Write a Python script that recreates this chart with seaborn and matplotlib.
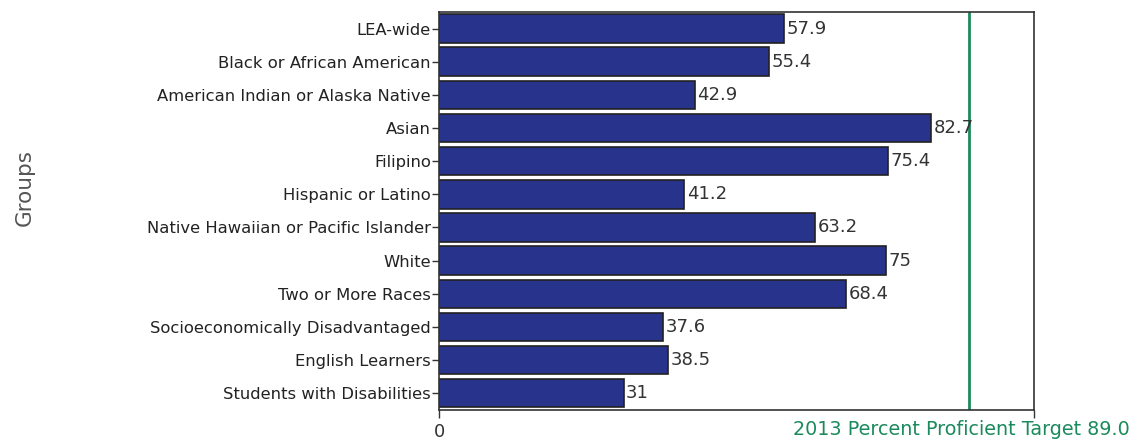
import matplotlib
import numpy as np
import pandas as pd
import seaborn as sns
from matplotlib import pyplot as plt

matplotlib.use('Agg')

groups = [
    "LEA-wide",
    "Black or African American",
    "American Indian or Alaska Native",
    "Asian",
    "Filipino",
    "Hispanic or Latino",
    "Native Hawaiian or Pacific Islander",
    "White",
    "Two or More Races",
    "Socioeconomically Disadvantaged",
    "English Learners",
    "Students with Disabilities",
]
values = [57.9, 55.4, 42.9, 82.7, 75.4, 41.2, 63.2, 75, 68.4, 37.6, 38.5, 31]
value_labels = ["57.9", "55.4", "42.9", "82.7", "75.4", "41.2", "63.2", "75", "68.4", "37.6", "38.5", "31"]
target = 89.0
target_label = "2013 Percent Proficient Target 89.0"

BAR_COLOR = "#28338c"
TARGET_COLOR = "#1b8a5c"

sns.set_style("white")
plt.rcParams['font.family'] = ['DejaVu Sans']

df = pd.DataFrame({"group": groups, "value": values})

fig = plt.figure(figsize=(11.38, 4.44), dpi=100)
ax = fig.add_axes([0.386, 0.077, 0.523, 0.896])

sns.barplot(data=df, x="value", y="group", orient="h", color=BAR_COLOR,
            edgecolor="#222222", linewidth=1.2, width=0.86, saturation=1, ax=ax)

for i, (v, lab) in enumerate(zip(values, value_labels)):
    ax.text(v + 0.4, i, lab, va="center", ha="left", fontsize=13, color="#333333")

ax.axvline(target, color=TARGET_COLOR, linewidth=2)

ax.set_xlim(0, 100)
ax.set_xticks([0, 100])
ax.set_xticklabels(["0", ""], fontsize=13, color="#333333")
ax.tick_params(axis="x", direction="out", length=6, width=1, color="#333333", bottom=True)
ax.tick_params(axis="y", direction="out", length=5, width=1, color="#333333", left=True,
               labelsize=11.8, labelcolor="#222222", pad=1)
ax.set_xlabel("")
ax.set_ylabel("")

for s in ax.spines.values():
    s.set_color("#333333")
    s.set_linewidth(1.2)

fig.text(0.022, 0.577, "Groups", rotation=90, va="center", ha="center", fontsize=15.5, color="#555555")
fig.text(0.993, 0.032, target_label, ha="right", va="center", fontsize=13.8, color=TARGET_COLOR)

fig.savefig("out.png", dpi=100)
